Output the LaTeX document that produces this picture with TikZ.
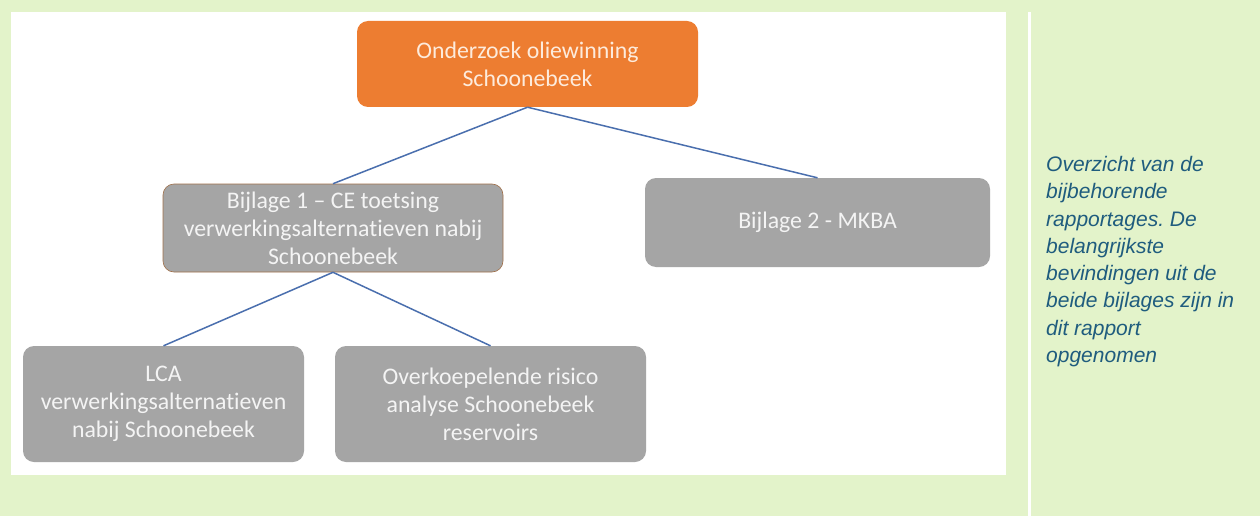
\documentclass[tikz,border=0pt]{standalone}
\usepackage{fontspec}
\setmainfont{Carlito}[RawFeature={-liga;-clig;-dlig}]
\newfontfamily\notefont{Liberation Sans}
\definecolor{bggreen}{HTML}{E3F3CA}
\definecolor{boxorange}{HTML}{ED7D31}
\definecolor{boxgray}{HTML}{A5A5A5}
\definecolor{edgebrown}{HTML}{A0704A}
\definecolor{linkblue}{HTML}{4A6FAE}
\definecolor{notecol}{HTML}{1F5C7E}
\definecolor{lighttext}{HTML}{F4F4F4}
\definecolor{creamtext}{HTML}{FDEBDC}
\tikzset{
  boxbase/.style={rectangle, rounded corners=11pt, align=center, inner sep=0pt,
    font=\fontsize{23.8}{28}\selectfont},
  topbox/.style={boxbase, fill=boxorange, text=creamtext},
  graybox/.style={boxbase, fill=boxgray, text=lighttext},
  link/.style={draw=linkblue, line width=1.5pt},
}
\begin{document}
\frenchspacing
\begin{tikzpicture}[x=1pt,y=-1pt]
\useasboundingbox (0,0) rectangle (1260,516);
\fill[bggreen] (0,0) rectangle (1260,516);
\fill[white] (11,12) rectangle (1006,475);
\fill[white] (1028,12) rectangle (1031,516);

\node[topbox, minimum width=341pt, minimum height=86pt] (top) at (527.5,64) {Onderzoek oliewinning\\Schoonebeek};
\node[graybox, draw=edgebrown, line width=0.6pt, minimum width=340pt, minimum height=88pt] (b1) at (333,228) {Bijlage 1 -- CE toetsing\\verwerkingsalternatieven nabij\\Schoonebeek};
\node[graybox, minimum width=345pt, minimum height=89pt] (b2) at (817.5,222.5) {Bijlage 2 - MKBA};
\node[graybox, minimum width=281pt, minimum height=116pt] (lca) at (163.5,404) {LCA\\verwerkingsalternatieven\\nabij Schoonebeek};
\node[graybox, minimum width=311pt, minimum height=116pt] (ovk) at (490.5,404) {Overkoepelende risico\\analyse Schoonebeek\\reservoirs};

\draw[link] (top.south) -- (b1.north);
\draw[link] (top.south) -- (b2.north);
\draw[link] (b1.south) -- (lca.north);
\draw[link] (b1.south) -- (ovk.north);

\node[anchor=north west, align=left, inner sep=0pt, text=notecol,
  font=\notefont\itshape\fontsize{21}{27.3}\selectfont] (note) at (1046,156)
  {Overzicht van de\\bijbehorende\\rapportages. De\\belangrijkste\\bevindingen uit de\\beide bijlages zijn in\\dit rapport\\opgenomen};
\end{tikzpicture}
\end{document}
